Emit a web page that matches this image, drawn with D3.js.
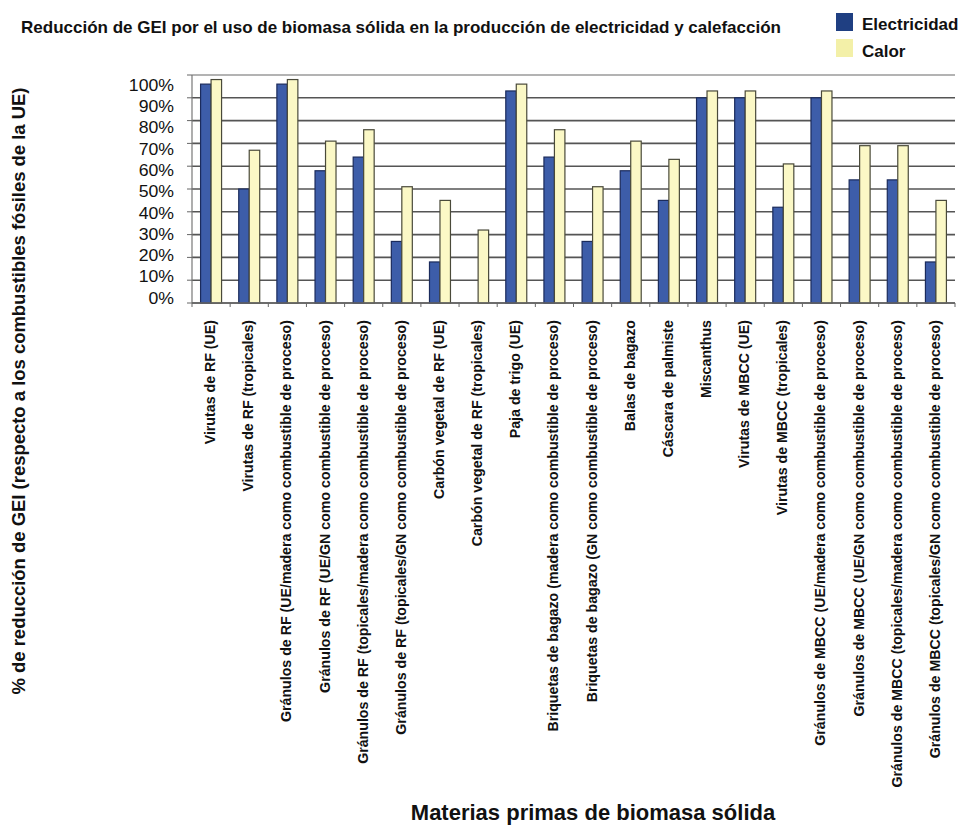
<!DOCTYPE html>
<html>
<head>
<meta charset="utf-8">
<script src="https://cdn.jsdelivr.net/npm/d3@7"></script>
<style>
  html, body { margin: 0; padding: 0; background: #fff; }
  svg { display: block; }
  text { font-family: "Liberation Sans", Arial, Helvetica, sans-serif; fill: #111; }
</style>
</head>
<body>
<svg id="chart" width="963" height="825"></svg>
<script>
// Feedstock categories (x axis)
const categories = [
  "Virutas de RF (UE)",
  "Virutas de RF (tropicales)",
  "Gránulos de RF (UE/madera como combustible de proceso)",
  "Gránulos de RF (UE/GN como combustible de proceso)",
  "Gránulos de RF (topicales/madera como combustible de proceso)",
  "Gránulos de RF (topicales/GN como combustible de proceso)",
  "Carbón vegetal de RF (UE)",
  "Carbón vegetal de RF (tropicales)",
  "Paja de trigo (UE)",
  "Briquetas de bagazo (madera como combustible de proceso)",
  "Briquetas de bagazo (GN como combustible de proceso)",
  "Balas de bagazo",
  "Cáscara de palmiste",
  "Miscanthus",
  "Virutas de MBCC (UE)",
  "Virutas de MBCC (tropicales)",
  "Gránulos de MBCC (UE/madera como combustible de proceso)",
  "Gránulos de MBCC (UE/GN como combustible de proceso)",
  "Gránulos de MBCC (topicales/madera como combustible de proceso)",
  "Gránulos de MBCC (topicales/GN como combustible de proceso)"
];

// GHG savings (%) per feedstock
const electricidad = [96, 50, 96, 58, 64, 27, 18, 0, 93, 64, 27, 58, 45, 90, 90, 42, 90, 54, 54, 18];
const calor        = [98, 67, 98, 71, 76, 51, 45, 32, 96, 76, 51, 71, 63, 93, 93, 61, 93, 69, 69, 45];

const seriesNames = ["Electricidad", "Calor"];
const yTicks = [0, 10, 20, 30, 40, 50, 60, 70, 80, 90, 100];

const titleText = "Reducción de GEI por el uso de biomasa sólida en la producción de electricidad y calefacción";
const yTitle = "% de reducción de GEI (respecto a los combustibles fósiles de la UE)";
const xTitle = "Materias primas de biomasa sólida";

const colors = { Electricidad: "#3d5da9", Calor: "#fbf8c6" };
const strokes = { Electricidad: "#1b2b5c", Calor: "#4a4a3a" };
const legendColors = { Electricidad: "#1f3f82", Calor: "#f3f0a8" };

const svg = d3.select("#chart");

const plot = { left: 192, right: 955, top: 75, bottom: 303 };

const x0 = d3.scaleBand()
  .domain(categories)
  .range([plot.left, plot.right])
  .paddingInner(0.45)
  .paddingOuter(0.225);

const x1 = d3.scaleBand()
  .domain(seriesNames)
  .range([0, x0.bandwidth()]);

const y = d3.scaleLinear().domain([0, 100]).range([plot.bottom, plot.top]);
// tick labels sit on a slightly tighter ladder than the gridlines
const yLabel = d3.scaleLinear().domain([0, 100]).range([298, 85]);

// gridlines
svg.append("g")
  .selectAll("line")
  .data(yTicks)
  .join("line")
  .attr("x1", plot.left)
  .attr("x2", plot.right)
  .attr("y1", d => y(d))
  .attr("y2", d => y(d))
  .attr("stroke", d => d === 100 ? "#9a9a9a" : "#555")
  .attr("stroke-width", 1.6);

// y axis line and ticks
svg.append("line")
  .attr("x1", plot.left).attr("x2", plot.left)
  .attr("y1", plot.top).attr("y2", plot.bottom)
  .attr("stroke", "#777").attr("stroke-width", 1.2);
svg.append("g")
  .selectAll("line")
  .data(yTicks)
  .join("line")
  .attr("x1", plot.left - 5).attr("x2", plot.left)
  .attr("y1", d => y(d)).attr("y2", d => y(d))
  .attr("stroke", "#666").attr("stroke-width", 1);

// y tick labels
svg.append("g")
  .selectAll("text")
  .data(yTicks)
  .join("text")
  .attr("x", 174)
  .attr("y", d => yLabel(d))
  .attr("dy", "0.35em")
  .attr("text-anchor", "end")
  .attr("font-size", 16.5)
  .attr("fill", "#222")
  .text(d => d + "%")
  .each(function () {
    const w = this.getComputedTextLength();
    d3.select(this).attr("textLength", w * 1.07).attr("lengthAdjust", "spacingAndGlyphs");
  });

// bars
const groups = svg.append("g")
  .selectAll("g")
  .data(categories.map((c, i) => ({ c, vals: [electricidad[i], calor[i]] })))
  .join("g")
  .attr("transform", d => `translate(${x0(d.c)},0)`);

groups.selectAll("rect")
  .data(d => d.vals.map((v, j) => ({ key: seriesNames[j], v })).filter(e => e.v > 0))
  .join("rect")
  .attr("x", d => x1(d.key))
  .attr("y", d => y(d.v))
  .attr("width", x1.bandwidth())
  .attr("height", d => y(0) - y(d.v))
  .attr("fill", d => colors[d.key])
  .attr("stroke", d => strokes[d.key])
  .attr("stroke-width", 1.2);

// x baseline and category separators
svg.append("line")
  .attr("x1", plot.left).attr("x2", plot.right)
  .attr("y1", plot.bottom).attr("y2", plot.bottom)
  .attr("stroke", "#666").attr("stroke-width", 1.4);
const step = x0.step();
svg.append("g")
  .selectAll("line")
  .data(d3.range(categories.length + 1))
  .join("line")
  .attr("x1", i => plot.left + i * step)
  .attr("x2", i => plot.left + i * step)
  .attr("y1", plot.bottom).attr("y2", plot.bottom + 4)
  .attr("stroke", "#666").attr("stroke-width", 1);

// category labels, rotated
svg.append("g")
  .selectAll("text")
  .data(categories)
  .join("text")
  .attr("transform", d => `translate(${x0(d) + x0.bandwidth() / 2 + 4},320) rotate(-90)`)
  .attr("text-anchor", "end")
  .attr("font-size", 14.2)
  .attr("font-weight", "bold")
  .attr("fill", "#1a1a1a")
  .text(d => d);

// title
svg.append("text")
  .attr("x", 21).attr("y", 33)
  .attr("font-size", 17)
  .attr("font-weight", "bold")
  .attr("textLength", 760)
  .attr("lengthAdjust", "spacingAndGlyphs")
  .text(titleText);

// legend
const legend = svg.append("g");
seriesNames.forEach((name, i) => {
  legend.append("rect")
    .attr("x", 836).attr("y", 13 + i * 26)
    .attr("width", 17).attr("height", 18)
    .attr("fill", legendColors[name]);
  legend.append("text")
    .attr("x", 862).attr("y", 30 + i * 27)
    .attr("font-size", 17)
    .attr("font-weight", "bold")
    .text(name);
});

// axis titles
svg.append("text")
  .attr("transform", "translate(25,391) rotate(-90)")
  .attr("text-anchor", "middle")
  .attr("font-size", 18)
  .attr("font-weight", "bold")
  .attr("textLength", 607)
  .attr("lengthAdjust", "spacingAndGlyphs")
  .text(yTitle);

svg.append("text")
  .attr("x", 593).attr("y", 820)
  .attr("text-anchor", "middle")
  .attr("font-size", 22)
  .attr("font-weight", "bold")
  .text(xTitle);
</script>
</body>
</html>
